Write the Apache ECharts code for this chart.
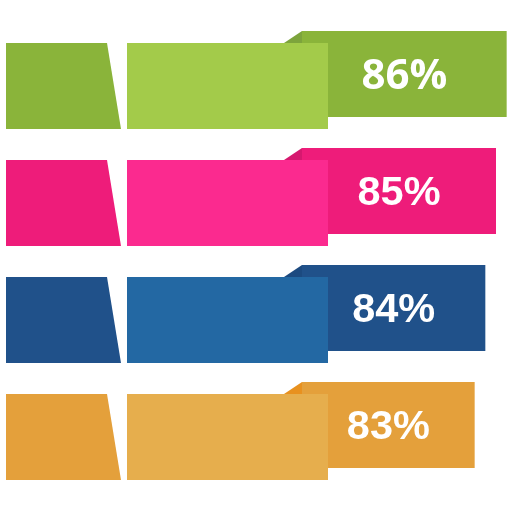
<!DOCTYPE html>
<html>
<head>
<meta charset="utf-8">
<script src="https://cdn.jsdelivr.net/npm/echarts@6/dist/echarts.min.js"></script>
<style>html,body{margin:0;padding:0;background:#fff}#c{width:512px;height:512px}</style>
</head>
<body>
<div id="c"></div>
<script>
var categories = ['Row 1', 'Row 2', 'Row 3', 'Row 4'];
var values = [86, 85, 84, 83];
var labels = ['86%', '85%', '84%', '83%'];
var darkColors = ['#8AB43A', '#EE1C7A', '#20518A', '#E4A03B'];
var lightColors = ['#A3CB4A', '#FB2A8F', '#2368A3', '#E6AE4D'];
var foldColors = ['#7DA43C', '#D6186F', '#1C4A80', '#E8911F'];
var labelFonts = ['"Open Sans"', '"Liberation Sans"', '"Liberation Sans"', '"Liberation Sans"'];
var labelSizes = [42, 41.5, 41.5, 41.5];

var chart = echarts.init(document.getElementById('c'), null, {renderer: 'canvas'});

function renderItem(params, api) {
  var i = params.dataIndex;
  var end = api.coord([api.value(1), api.value(0)]);
  var band = api.size([0, 1])[1];
  var c = end[1];
  var half = band * 43 / 117;
  var shift = band * 12 / 117;
  var x0 = api.coord([38.5 + 6 / 10.6667, 0])[0];
  var leftTopR = 107, leftBotR = 121, midL = 127, midR = 328, rightL = 302, foldL = 284;
  var rightTop = c - half - shift, rightBot = c + half - shift;
  return {
    type: 'group',
    children: [
      {type: 'rect', shape: {x: rightL, y: rightTop, width: end[0] - rightL, height: rightBot - rightTop},
       style: {fill: darkColors[i]}},
      {type: 'polygon', shape: {points: [[foldL, c - half], [rightL, rightTop], [rightL, c - half]]},
       style: {fill: foldColors[i]}},
      {type: 'rect', shape: {x: midL, y: c - half, width: midR - midL, height: 2 * half},
       style: {fill: lightColors[i]}},
      {type: 'polygon', shape: {points: [[x0, c - half], [leftTopR, c - half], [leftBotR, c + half], [x0, c + half]]},
       style: {fill: darkColors[i]}},
      {type: 'text', x: (rightL + end[0]) / 2, y: (rightTop + rightBot) / 2 + 3,
       style: {text: labels[i], fill: '#fff', font: 'bold ' + labelSizes[i] + 'px ' + labelFonts[i],
                align: 'center', verticalAlign: 'middle'}}
    ]
  };
}

chart.setOption({
  animation: false,
  grid: {left: 0, right: 0, top: 27.5, bottom: 16.5},
  xAxis: {type: 'value', min: 38.5, max: 86.5, show: false},
  yAxis: {type: 'category', data: categories, inverse: true, show: false},
  series: [{
    type: 'custom',
    renderItem: renderItem,
    encode: {x: 1, y: 0},
    data: categories.map(function (cat, i) { return [i, values[i]]; })
  }]
});
</script>
</body>
</html>
